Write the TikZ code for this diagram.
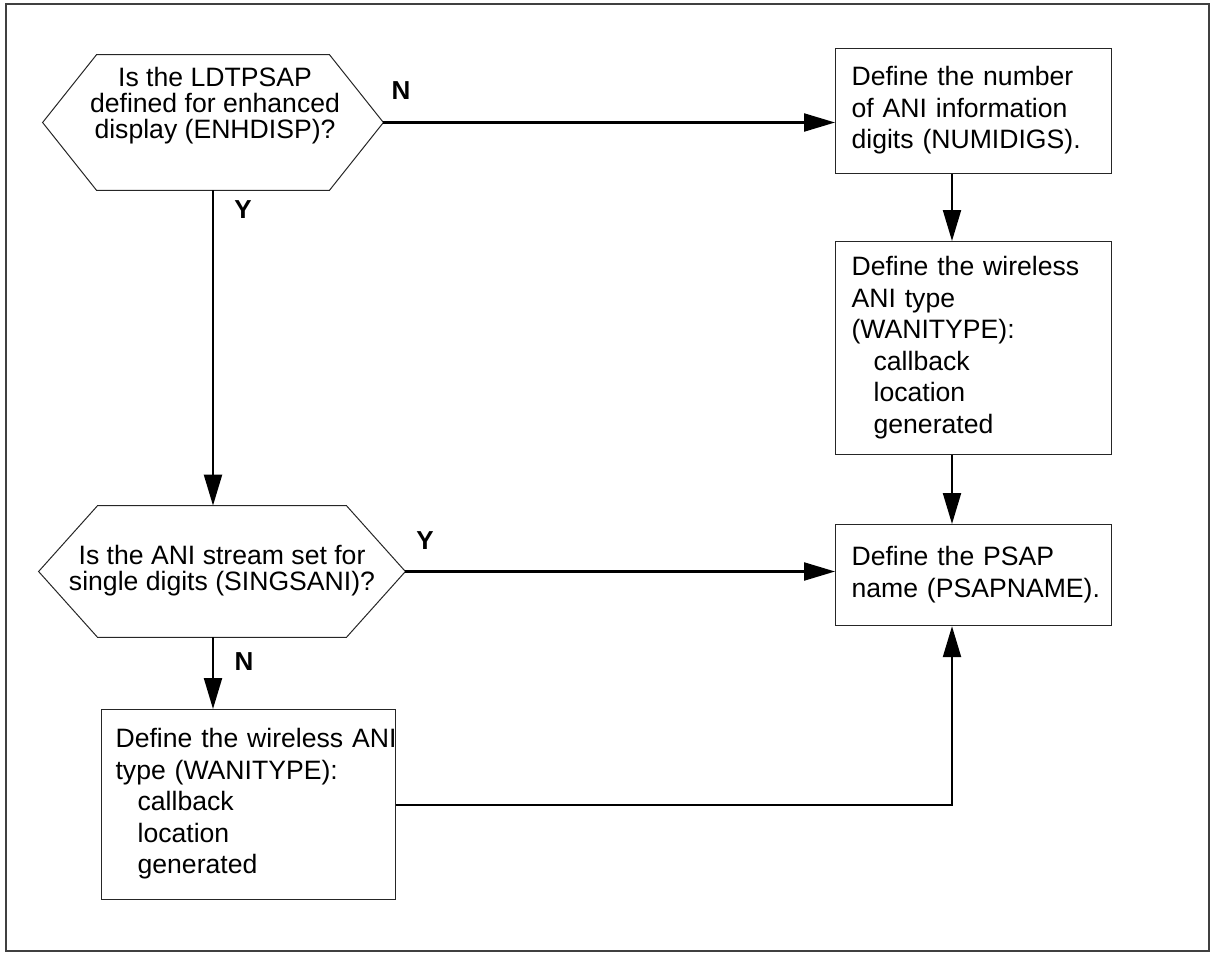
\documentclass[tikz,border=0pt]{standalone}
\usepackage{fontspec}
\setmainfont{Liberation Sans}
\usetikzlibrary{arrows.meta,positioning,calc}

\newcommand{\hexoutline}[2]{%
  \draw[hexline] (#1.west) -- ([xshift=#2]#1.north west) -- ([xshift=-#2]#1.north east)
    -- (#1.east) -- ([xshift=-#2]#1.south east) -- ([xshift=#2]#1.south west) -- cycle;}
\newcommand{\steplines}[1]{\begin{tabular}{@{}l@{}}#1\end{tabular}}

\begin{document}
\begin{tikzpicture}[x=0.5pt,y=-0.5pt]
\tikzset{
    taskbox/.style={draw=black!85,line width=0.6pt,anchor=north west,
        inner xsep=8pt,inner ysep=0pt,font=\fontsize{13.3}{15.75}\selectfont},
    hexnode/.style={inner sep=0pt},
    hexline/.style={draw=black!85,line width=0.5pt},
    asktext/.style={align=center,inner sep=0pt,font=\fontsize{13.3}{13}\selectfont},
    answer/.style={font=\bfseries\fontsize{13}{13}\selectfont,inner sep=0pt},
    flow/.style={-{Triangle[length=15.5pt,width=9pt]},line width=1.1pt}
}
\useasboundingbox (0,0) rectangle (1211,953);
% frame
\draw[black!75,line width=0.6pt] (6,4) rectangle (1209,951);
% questions
\node[hexnode,minimum width=170pt,minimum height=67.5pt] (q1) at (213,122.5) {};
\node[asktext] (q1txt) at (215,106) {Is the LDTPSAP\\defined for enhanced\\display (ENHDISP)?};
\hexoutline{q1}{27pt}
\node[hexnode,minimum width=183pt,minimum height=65.5pt] (q2) at (222,571.5) {};
\node[asktext] (q2txt) at (222,571) {Is the ANI stream set for\\single digits (SINGSANI)?};
\hexoutline{q2}{29.5pt}
% steps
\node[taskbox,text width=122pt,minimum height=62.5pt] (b1) at (835,48)
    {\steplines{Define the number\\of ANI information\\digits (NUMIDIGS).}};
\node[taskbox,text width=122pt,minimum height=106.5pt] (b2) at (835,241)
    {\steplines{Define the wireless\\ANI type\\(WANITYPE):\\\hspace*{11pt}callback\\\hspace*{11pt}location\\\hspace*{11pt}generated}};
\node[taskbox,text width=122pt,minimum height=50.5pt] (b4) at (835,524)
    {\steplines{Define the PSAP\\name (PSAPNAME).}};
\node[taskbox,text width=133pt,inner xsep=7pt,minimum height=95pt] (b3) at (101,709)
    {\steplines{Define the wireless ANI\\type (WANITYPE):\\\hspace*{11pt}callback\\\hspace*{11pt}location\\\hspace*{11pt}generated}};
\coordinate (rcol) at (952,0);
% answers
\node[answer] (n1) at (401,91) {N};
\node[answer] (y1) at (243,210) {Y};
\node[answer] (y2) at (425,541) {Y};
\node[answer] (n2) at (244,662) {N};
% edges
\draw[flow] (q1.east) -- (q1.east -| b1.west);
\draw[flow] (q1.south) -- (q1.south |- q2.north);
\draw[flow] (q2.east) -- (q2.east -| b4.west);
\draw[flow] (q1.south |- q2.south) -- (q1.south |- b3.north);
\draw[flow] (rcol |- b1.south) -- (rcol |- b2.north);
\draw[flow] (rcol |- b2.south) -- (rcol |- b4.north);
\draw[flow] (b3.east) -| (rcol |- b4.south);
\end{tikzpicture}
\end{document}
